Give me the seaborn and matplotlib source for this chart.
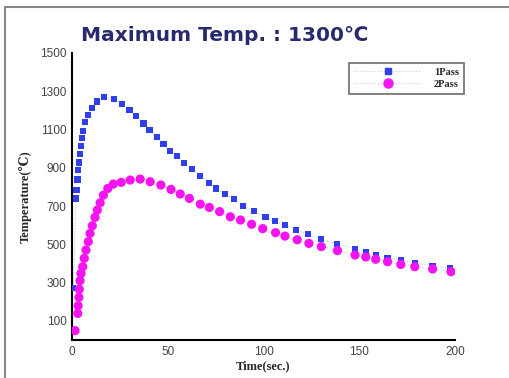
import numpy as np
import pandas as pd
import matplotlib
matplotlib.use("Agg")
import matplotlib.pyplot as plt
from matplotlib.lines import Line2D
from matplotlib.ticker import MultipleLocator
import seaborn as sns

# ---- data ----
pass1_time = [0.7, 2.1, 2.4, 2.9, 3.3, 3.7, 4.0, 4.5, 5.1, 5.9, 6.8, 8.5, 10.6, 12.9, 16.9,
              22.1, 26.0, 30.0, 33.5, 37.3, 40.5, 44.3, 47.8, 51.3, 54.8, 58.6, 62.7, 67.0,
              71.7, 75.2, 79.7, 84.5, 89.4, 95.1, 101.0, 105.9, 111.2, 117.1, 123.4, 130.2,
              138.2, 147.8, 153.4, 158.6, 164.8, 171.7, 179.0, 188.3, 197.5]
pass1_temp = [270, 740, 784, 839, 888, 928, 972, 1013, 1057, 1092, 1141, 1175, 1214, 1247, 1271,
              1259, 1233, 1202, 1170, 1132, 1097, 1059, 1024, 989, 961, 926, 892, 858,
              822, 792, 763, 737, 702, 674, 641, 620, 599, 575, 552, 528,
              502, 475, 458, 446, 430, 418, 404, 388, 375]
pass2_time = [1.6, 3.0, 3.2, 3.6, 3.8, 4.2, 4.7, 5.6, 6.4, 7.3, 8.5, 9.4, 10.6, 12.0, 13.2,
              14.7, 16.4, 18.7, 21.6, 25.7, 30.4, 35.6, 40.8, 46.4, 51.7, 56.5, 61.3, 67.0,
              71.7, 77.1, 82.7, 88.0, 93.8, 99.6, 106.3, 111.2, 117.6, 123.7, 130.2, 138.6,
              147.8, 153.4, 158.6, 164.8, 171.7, 179.0, 188.3, 197.9]
pass2_temp = [49, 139, 179, 223, 265, 310, 348, 383, 427, 470, 514, 557, 597, 641, 679,
              717, 757, 792, 815, 824, 836, 841, 827, 810, 787, 763, 740, 710,
              693, 671, 644, 627, 605, 582, 561, 543, 524, 505, 488, 467,
              444, 434, 422, 409, 395, 383, 371, 357]
series_labels = ["1Pass", "2Pass"]
title_text = "Maximum Temp. : 1300\u2103"
x_label = "Time(sec.)"
y_label = "Temperature(\u2103)"
x_ticks = [0, 50, 100, 150, 200]
y_ticks = [100, 300, 500, 700, 900, 1100, 1300, 1500]

sns.set_style("white")
plt.rcParams['font.family'] = ['Liberation Sans', 'DejaVu Sans']

df1 = pd.DataFrame({"t": pass1_time, "T": pass1_temp})
df2 = pd.DataFrame({"t": pass2_time, "T": pass2_temp})

blue = "#2f3fea"
mag = "#f514f0"

fig = plt.figure(figsize=(5.10, 3.78), dpi=100)
ax = fig.add_axes([72/510, 1-340/378, (455-72)/510, (340-53)/378])

sns.lineplot(data=df1, x="t", y="T", ax=ax, color="#b8bff0", lw=0.7, ls=":", sort=True)
sns.lineplot(data=df2, x="t", y="T", ax=ax, color="#f3b6f0", lw=0.7, ls=":", sort=True)
sns.scatterplot(data=df1, x="t", y="T", ax=ax, marker="s", s=20, color=blue,
                edgecolor="none", zorder=3)
sns.scatterplot(data=df2, x="t", y="T", ax=ax, marker="o", s=44, color=mag,
                edgecolor="none", zorder=4)

ax.set_xlim(0, 200)
ax.set_ylim(0, 1500)
ax.set_xticks(x_ticks)
ax.set_yticks(y_ticks)
ax.xaxis.set_minor_locator(MultipleLocator(10))
ax.yaxis.set_minor_locator(MultipleLocator(50))
ax.tick_params(axis="both", which="major", direction="in", length=6, width=1.6,
               labelsize=8.5, labelcolor="#444444", color="black", pad=4)
ax.tick_params(axis="both", which="minor", direction="in", length=3, width=0.7,
               color="#555555")
for s in ["top", "right"]:
    ax.spines[s].set_visible(False)
for s in ["left", "bottom"]:
    ax.spines[s].set_color("black")
    ax.spines[s].set_linewidth(1.5)

ax.set_xlabel(x_label, family=["Liberation Serif", "DejaVu Serif"], fontweight="bold",
              fontsize=9, labelpad=2)
ax.set_ylabel(y_label, family=["Liberation Serif", "DejaVu Serif"], fontweight="bold",
              fontsize=9, labelpad=6)

fig.text(0.44, 0.907, title_text, family=["DejaVu Sans"], fontweight="bold",
         fontsize=14.5, color="#272b6e", ha="center", va="center")

handles = [Line2D([], [], color="#c8ccf2", ls=":", lw=0.8, marker="s", markersize=4.3,
                  markerfacecolor=blue, markeredgecolor=blue),
           Line2D([], [], color="#f3c0f0", ls=":", lw=0.8, marker="o", markersize=6.5,
                  markerfacecolor=mag, markeredgecolor=mag)]
leg = fig.legend(handles, series_labels, loc="upper left",
                 bbox_to_anchor=(349/510, 1-63/378), frameon=True, fancybox=False,
                 prop={"family": ["Liberation Serif"], "weight": "bold", "size": 7.5},
                 handlelength=6.5, handletextpad=1.2, borderpad=0.45, labelspacing=0.25,
                 markerscale=1.0, borderaxespad=0)
leg.get_frame().set_edgecolor("#555555")
leg.get_frame().set_linewidth(1.3)

# outer frame (top and left edges)
fig.add_artist(Line2D([5/510, 5/510], [0, 1-7/378], transform=fig.transFigure,
                      color="#888888", lw=1.5))
fig.add_artist(Line2D([5/510, 1], [1-7/378, 1-7/378], transform=fig.transFigure,
                      color="#888888", lw=1.5))

fig.savefig("out.png", dpi=100)
